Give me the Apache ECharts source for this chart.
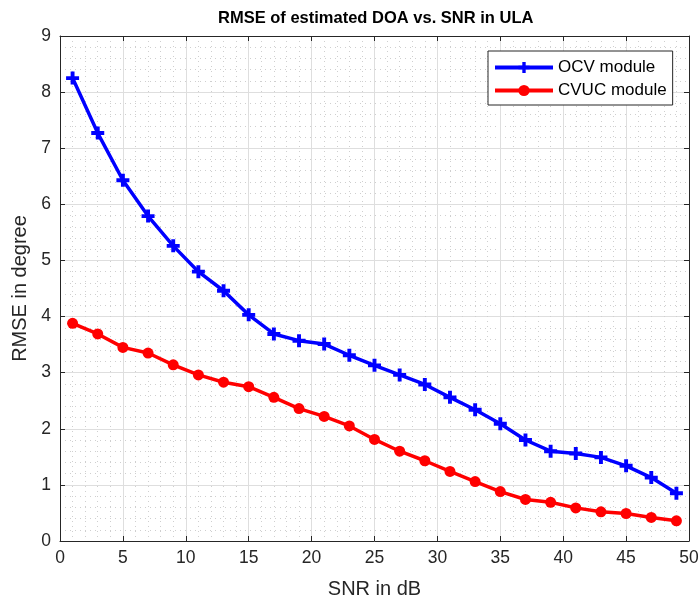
<!DOCTYPE html>
<html>
<head>
<meta charset="utf-8">
<script src="https://cdn.jsdelivr.net/npm/echarts@6/dist/echarts.min.js"></script>
<style>
  html, body { margin: 0; padding: 0; background: #fff; }
  #chart { width: 699px; height: 603px; }
</style>
</head>
<body>
<div id="chart"></div>
<script>
// SNR values (dB)
const snr = [1, 3, 5, 7, 9, 11, 13, 15, 17, 19, 21, 23, 25, 27, 29, 31, 33, 35, 37, 39, 41, 43, 45, 47, 49]
// RMSE
const ocv = [8.25, 7.27, 6.43, 5.79, 5.26, 4.80, 4.46, 4.03, 3.69, 3.57, 3.51, 3.31, 3.13, 2.96, 2.79, 2.56, 2.34, 2.09, 1.80, 1.60, 1.56, 1.49, 1.34, 1.13, 0.85]
const cvuc = [3.88, 3.69, 3.45, 3.35, 3.14, 2.96, 2.83, 2.75, 2.56, 2.36, 2.22, 2.05, 1.81, 1.60, 1.43, 1.24, 1.06, 0.88, 0.74, 0.69, 0.59, 0.52, 0.49, 0.42, 0.36]

const font = 'Liberation Sans, Arial, sans-serif'
const axisColor = '#262626'
// thick "+" marker
const plusPath = 'path://M3.5,0h3v3.5h3.5v3h-3.5v3.5h-3v-3.5h-3.5v-3h3.5z'

const chartObj = echarts.init(document.getElementById('chart'))

// frame axes on top / right (MATLAB box)
const boxAxis = {
  axisLine: { show: true, onZero: false, lineStyle: { color: axisColor, width: 1 } },
  axisTick: { show: true, inside: true, length: 5, lineStyle: { color: axisColor } },
  axisLabel: { show: false },
  splitLine: { show: false }
}

const option = {
  animation: false,
  backgroundColor: '#fff',
  title: {
    text: 'RMSE of estimated DOA vs. SNR in ULA',
    left: 213,
    top: 5,
    textStyle: { fontFamily: font, fontSize: 16.5, fontWeight: 'bold', color: '#000' }
  },
  grid: { left: 60, right: 10, top: 36, bottom: 62, outerBoundsMode: 'none' },
  legend: {
    left: 488,
    top: 51,
    orient: 'vertical',
    padding: [8, 6, 6, 5],
    itemGap: 6,
    itemWidth: 58,
    itemHeight: 14,
    backgroundColor: '#fff',
    borderColor: '#262626',
    borderWidth: 1,
    lineStyle: { width: 4 },
    textStyle: { fontFamily: font, fontSize: 17, color: '#000' },
    data: ['OCV module', 'CVUC module']
  },
  xAxis: [
    {
      type: 'value',
      min: 0,
      max: 50,
      interval: 5,
      name: 'SNR in dB',
      nameLocation: 'middle',
      nameGap: 38,
      nameTextStyle: { fontFamily: font, fontSize: 20, color: axisColor },
      axisLine: { onZero: false, lineStyle: { color: axisColor, width: 1 } },
      axisTick: { inside: true, length: 5, lineStyle: { color: axisColor } },
      axisLabel: { fontFamily: font, fontSize: 17.5, color: axisColor, margin: 8 },
      splitLine: { show: true, lineStyle: { color: '#dedede', width: 1 } },
      minorTick: { show: false, splitNumber: 5 },
      minorSplitLine: { show: true, lineStyle: { color: '#cfcfcf', width: 1, type: [1, 4] } }
    },
    Object.assign({ type: 'value', position: 'top', min: 0, max: 50, interval: 5 }, boxAxis)
  ],
  yAxis: [
    {
      type: 'value',
      min: 0,
      max: 9,
      interval: 1,
      name: 'RMSE in degree',
      nameLocation: 'middle',
      nameGap: 28,
      nameTextStyle: { fontFamily: font, fontSize: 20, color: axisColor },
      axisLine: { show: true, onZero: false, lineStyle: { color: axisColor, width: 1 } },
      axisTick: { show: true, inside: true, length: 5, lineStyle: { color: axisColor } },
      axisLabel: { fontFamily: font, fontSize: 17.5, color: axisColor, margin: 9 },
      splitLine: { show: true, lineStyle: { color: '#dedede', width: 1 } },
      minorTick: { show: false, splitNumber: 5 },
      minorSplitLine: { show: true, lineStyle: { color: '#cfcfcf', width: 1, type: [1, 4] } }
    },
    Object.assign({ type: 'value', position: 'right', min: 0, max: 9, interval: 1 }, boxAxis)
  ],
  series: [
    {
      name: 'OCV module',
      type: 'line',
      data: snr.map((x, i) => [x, ocv[i]]),
      symbol: plusPath,
      symbolSize: 13,
      showAllSymbol: true,
      lineStyle: { color: '#0000ff', width: 3.5 },
      itemStyle: { color: '#0000ff' },
      z: 3
    },
    {
      name: 'CVUC module',
      type: 'line',
      data: snr.map((x, i) => [x, cvuc[i]]),
      symbol: 'circle',
      symbolSize: 11,
      showAllSymbol: true,
      lineStyle: { color: '#ff0000', width: 3.5 },
      itemStyle: { color: '#ff0000' },
      z: 3
    }
  ]
}

chartObj.setOption(option)
</script>
</body>
</html>
